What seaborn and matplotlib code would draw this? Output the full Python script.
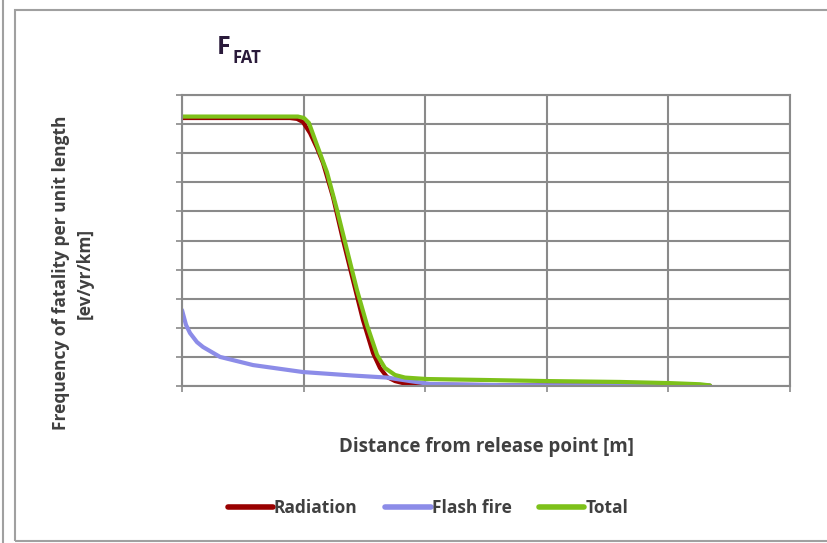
import numpy as np
import pandas as pd
import matplotlib
matplotlib.use("Agg")
import matplotlib.pyplot as plt
import seaborn as sns
from matplotlib.patches import Rectangle
from matplotlib.lines import Line2D

# ---- data (arbitrary y units, x in m) ----
rad_x = [0, 88.8, 94.6, 99.5, 105.3, 111.0, 116.0, 124.2, 132.4, 140.6, 148.8,
         157.1, 162.8, 168.6, 175.2, 181.7, 199.8, 261.5, 343.8, 434.2]
rad_y = [9.21, 9.21, 9.18, 9.07, 8.69, 8.18, 7.66, 6.49, 5.02, 3.64, 2.27,
         1.13, 0.62, 0.31, 0.17, 0.10, 0.05, 0.03, 0.02, 0.01]

flash_x = [0, 3.3, 6.6, 12.3, 17.3, 31.3, 58.4, 99.5, 140.6, 168.6, 187.5,
           203.9, 261.5, 343.8, 434.2]
flash_y = [2.61, 2.10, 1.82, 1.51, 1.34, 1.00, 0.72, 0.48, 0.36, 0.29, 0.17,
           0.07, 0.03, 0.02, 0.01]

tot_x = [0, 95.4, 100.3, 104.4, 111.0, 119.2, 127.5, 135.7, 143.9, 152.1,
         160.4, 166.9, 175.2, 183.4, 201.5, 245.0, 300.2, 360.2, 401.3, 426.0, 434.2]
tot_y = [9.26, 9.26, 9.21, 9.04, 8.28, 7.35, 6.05, 4.67, 3.30, 2.10,
         1.07, 0.62, 0.38, 0.29, 0.24, 0.21, 0.17, 0.14, 0.10, 0.06, 0.02]

series_names = ["Radiation", "Flash fire", "Total"]
x_ticks = [0, 100, 200, 300, 400, 500]
y_ticks = list(range(0, 11))

df = pd.concat([
    pd.DataFrame({"x": rad_x, "y": rad_y, "series": "Radiation"}),
    pd.DataFrame({"x": flash_x, "y": flash_y, "series": "Flash fire"}),
    pd.DataFrame({"x": tot_x, "y": tot_y, "series": "Total"}),
], ignore_index=True)

sns.set_theme(style="white")
plt.rcParams["font.family"] = ["Open Sans", "DejaVu Sans"]

fig = plt.figure(figsize=(8.28, 5.43), dpi=100)
ax = fig.add_axes([0.2198, 0.2891, 0.7343, 0.5359])

palette = {"Radiation": "#990000", "Flash fire": "#8C8CE8", "Total": "#7DC11A"}
sns.lineplot(data=df, x="x", y="y", hue="series", hue_order=series_names,
             palette=palette, linewidth=3, sort=False, estimator=None, ax=ax)

ax.set_xlim(0, 500)
ax.set_ylim(0, 10)
ax.set_xticks(x_ticks)
ax.set_yticks(y_ticks)
ax.set_xticklabels([])
ax.set_yticklabels([])
ax.grid(True, color="#8a8a8a", linewidth=1.5)
ax.set_axisbelow(True)
for s in ax.spines.values():
    s.set_color("#8a8a8a")
    s.set_linewidth(1.5)
ax.tick_params(axis="both", direction="out", length=4, width=1.2, color="#8a8a8a",
               bottom=True, left=True)
ax.set_xlabel("")
ax.set_ylabel("")

# labels
txt_color = "#404040"
fig.text(486 / 828, 1 - 447 / 543, "Distance from release point [m]",
         ha="center", va="center", fontsize=13.5, fontweight="bold", color=txt_color)
fig.text(73 / 828, 1 - 273 / 543, "Frequency of fatality per unit length\n[ev/yr/km]",
         ha="center", va="center", rotation=90, fontsize=12.5, fontweight="bold",
         color=txt_color, linespacing=1.45)

# title F_FAT
fig.text(217 / 828, 1 - 48 / 543, "F", ha="left", va="center",
         fontsize=18, fontweight="bold", color="#2a1a3a")
fig.text(232 / 828, 1 - 58 / 543, "FAT", ha="left", va="center",
         fontsize=12, fontweight="bold", color="#2a1a3a")

# legend
handles, labels = ax.get_legend_handles_labels()
leg = ax.legend(handles, labels, loc="center", bbox_to_anchor=(428 / 828, 1 - 508 / 543),
                bbox_transform=fig.transFigure, ncol=3, frameon=False,
                handlelength=2.6, handletextpad=0.05, columnspacing=1.6,
                prop={"size": 12.5, "weight": "bold"})
for t in leg.get_texts():
    t.set_color(txt_color)
for h in leg.get_lines():
    h.set_linewidth(4)

# outer frame
fig.patches.append(Rectangle((15 / 828, 2 / 543), 830 / 828, 531 / 543,
                             transform=fig.transFigure, fill=False,
                             edgecolor="#a0a0a0", linewidth=1.5))
fig.lines.append(Line2D([3 / 828, 3 / 828], [0, 1], transform=fig.transFigure,
                        color="#a0a0a0", linewidth=1.5))

fig.savefig("out.png", dpi=100)
